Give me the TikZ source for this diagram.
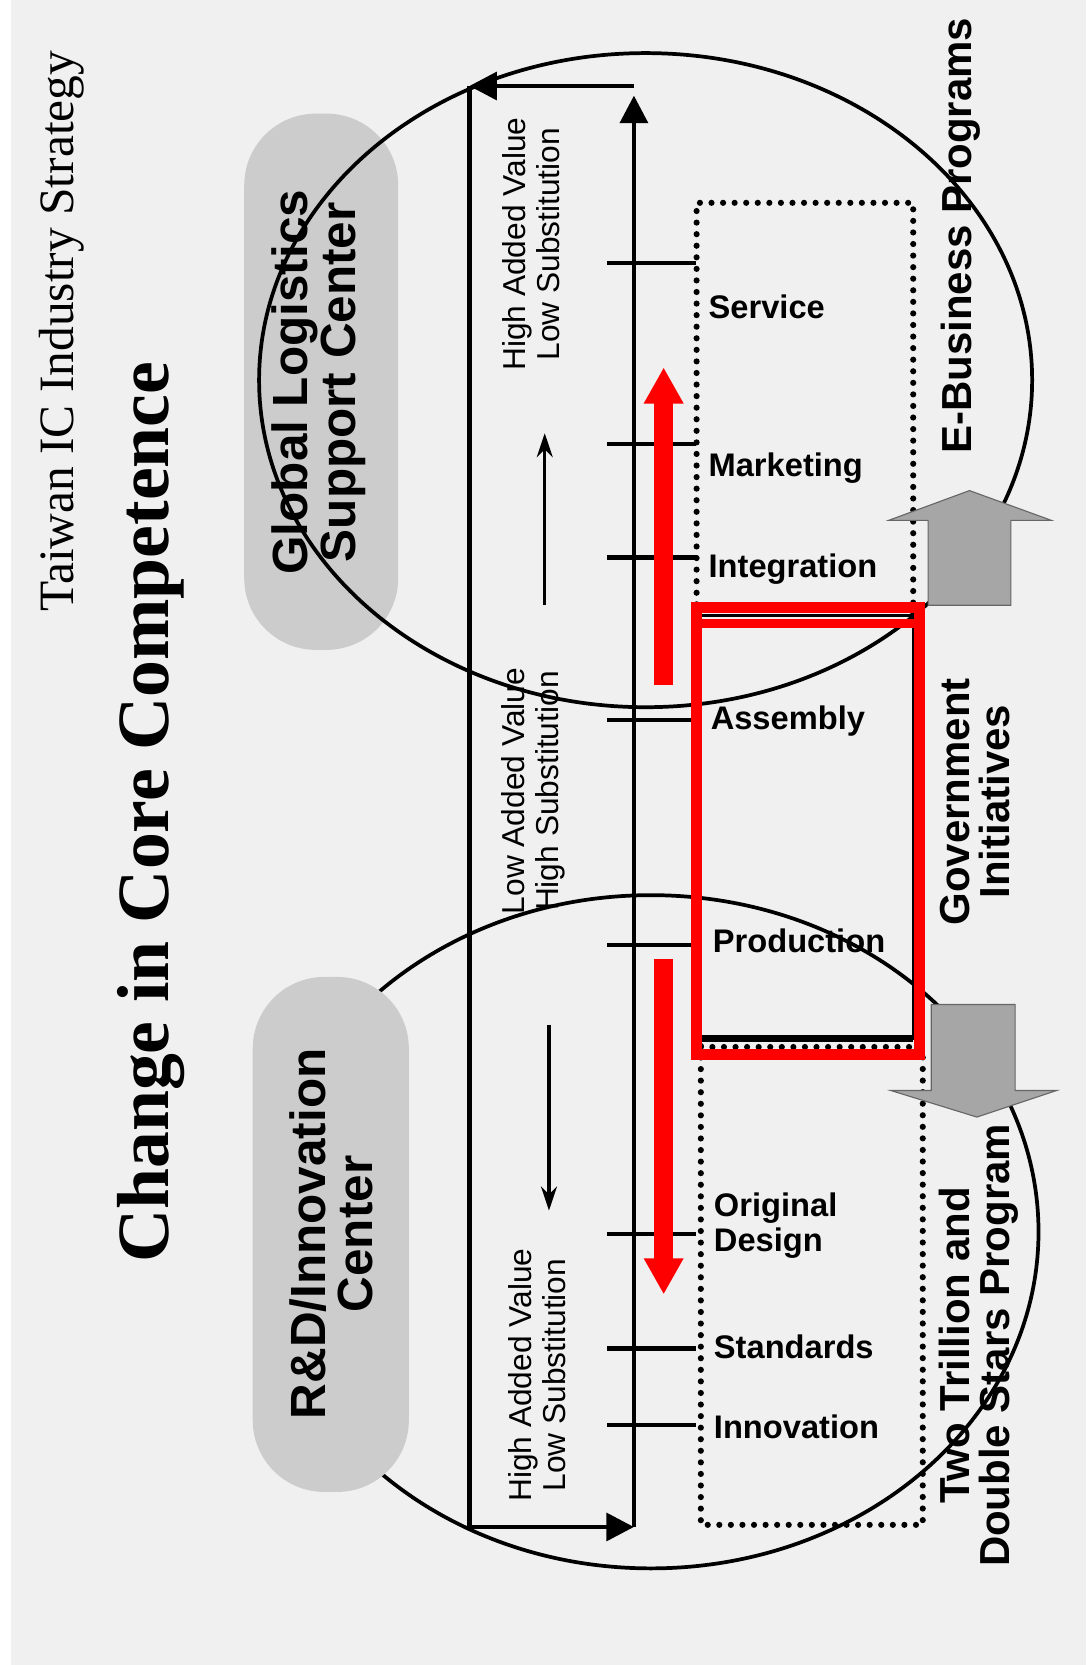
\documentclass[tikz,border=0pt]{standalone}
\usepackage{fontspec}
\setmainfont{Liberation Serif}
\setsansfont{Liberation Sans}
\usetikzlibrary{arrows.meta, positioning}

\begin{document}
\begin{tikzpicture}[x=0.02cm, y=-0.02cm,
    loopline/.style={line width=2.5pt},
    bigtip/.style={-{Triangle[length=0.52cm, width=0.52cm]}},
    ring/.style={line width=2pt},
    tick/.style={line width=2.3pt},
    stage/.style={anchor=west, inner sep=0pt, align=left,
        font=\sffamily\bfseries\fontsize{17.5}{19}\selectfont},
    valuetxt/.style={rotate=90, align=center, inner sep=0pt,
        font=\sffamily\fontsize{17}{18.5}\selectfont},
    govtxt/.style={rotate=90, align=center, inner sep=0pt,
        font=\sffamily\bfseries\fontsize{22.5}{21.5}\selectfont},
    centerbox/.style={fill=black!20, rounded corners=1.35cm},
    centertxt/.style={rotate=90, align=center, inner sep=0pt,
        font=\sffamily\bfseries\fontsize{26.5}{25.5}\selectfont},
    dotline/.style={line width=3.3pt, line cap=round, dash pattern=on 0pt off 6.2pt},
    redarrow/.style={red, line width=10pt, -{Triangle[length=0.68cm, width=0.7cm]}},
    blockarrow/.style={fill=black!35, draw=black!60, line width=0.6pt},
    smallarrow/.style={line width=1.7pt, -{Stealth[length=0.45cm, width=0.3cm]}}
  ]
    \useasboundingbox (0,0) rectangle (1023,1568);
    \fill[black!6] (0,0) rectangle (1023,1568);
    \fill[white] (0,0) rectangle (10,1568);

    \node[rotate=90, inner sep=0pt, font=\fontsize{26.5}{28}\selectfont] (strategy) at (58,312) {Taiwan IC Industry Strategy};
    \node[rotate=90, inner sep=0pt, font=\bfseries\fontsize{39.5}{40}\selectfont] (title) at (142,765) {Change in Core Competence};

    \fill[centerbox] (230,107) rectangle (375,612);
    \node[centertxt] (glsc) at (300,360) {Global Logistics\\Support Center};
    \draw[ring] (608,358) ellipse [x radius=364, y radius=308];
    \draw[ring] (613,1160) ellipse [x radius=365, y radius=317];
    \fill[centerbox] (238,920) rectangle (385,1405);
    \node[centertxt] (rdic) at (312,1162) {R\&D/Innovation\\Center};

    \draw[dotline] (656,580) -- (656,191) -- (860,191) -- (860,580);
    \draw[dotline] (660,985) -- (660,1436) -- (869,1436) -- (869,985);
    \draw[dotline] (660,986) -- (860,986);
    \draw[line width=1.7pt] (656,580) rectangle (860,978);
    \draw[line width=3.5pt] (656,978) -- (860,978);

    \coordinate (ltop) at (442,81);
    \coordinate (rtop) at (597,81);
    \coordinate (lbot) at (442,1438);
    \coordinate (abot) at (597,1438);
    \coordinate (atop) at (597,90);
    \draw[loopline, bigtip] (rtop) -- (ltop);
    \draw[loopline] (ltop) -- (lbot);
    \draw[loopline, bigtip] (lbot) -- (abot);
    \draw[loopline, bigtip] (abot) -- (atop);

    \foreach \y in {248,418,525,678,890,1162,1270,1342}
        \draw[tick] (572,\y) -- (655,\y);

    \node[valuetxt] (hightop) at (500,230) {High Added Value\\Low Substitution};
    \node[valuetxt] (lowmid) at (502,745) {Low Added Value\\High Substitution};
    \node[valuetxt] (highbot) at (506,1295) {High Added Value\\Low Substitution};
    \draw[smallarrow] (513,570) -- (513,408);
    \draw[smallarrow] (517,965) -- (517,1140);

    \node[stage] (service) at (667,289) {Service};
    \node[stage] (marketing) at (667,441) {Marketing};
    \node[stage] (integration) at (667,536) {Integration};
    \node[stage] (assembly) at (669,679) {Assembly};
    \node[stage] (production) at (671,886) {Production};
    \node[stage] (design) at (672,1154) {Original\\Design};
    \node[stage] (standards) at (672,1268) {Standards};
    \node[stage] (innovation) at (672,1344) {Innovation};

    \node[govtxt] (ebiz) at (905,222) {E-Business Programs};
    \node[govtxt] (gov) at (918,755) {Government\\Initiatives};
    \node[govtxt] (twostar) at (922,1267) {Two Trillion and\\Double Stars Program};

    \filldraw[blockarrow] (874,570) -- (874,490) -- (837,490) -- (913,462) -- (990,490) -- (952,490) -- (952,570) -- cycle;
    \filldraw[blockarrow] (877,946) -- (956,946) -- (956,1027) -- (995,1027) -- (920,1052) -- (839,1027) -- (877,1027) -- cycle;

    \draw[red, line width=5.7pt] (656,572) rectangle (866,993);
    \draw[red, line width=4.5pt] (656,587) -- (866,587);
    \draw[redarrow] (625,645) -- (625,346);
    \draw[redarrow] (625,903) -- (625,1219);
\end{tikzpicture}
\end{document}
